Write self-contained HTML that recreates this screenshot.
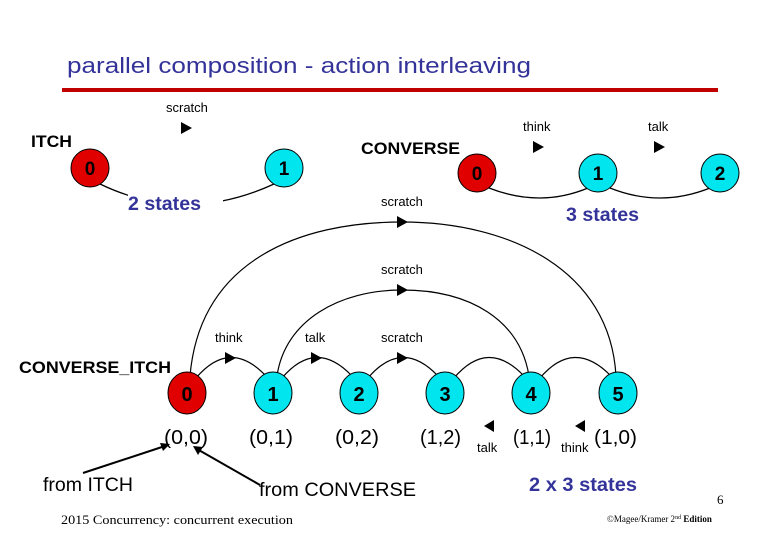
<!DOCTYPE html>
<html><head><meta charset="utf-8"><style>
html,body{margin:0;padding:0;background:#fff;}
svg{display:block;}
text{font-family:"Liberation Sans",sans-serif;}
</style></head><body>
<svg width="780" height="540" viewBox="0 0 780 540" xmlns="http://www.w3.org/2000/svg">
<rect width="780" height="540" fill="#fff"/>
<text x="67" y="73" font-size="22" fill="#333399" textLength="464" lengthAdjust="spacingAndGlyphs">parallel composition - action interleaving</text>
<rect x="62" y="88" width="656" height="4" fill="#c00000"/>

<!-- ITCH -->
<text x="31" y="147" font-size="17" font-weight="bold" fill="#000" textLength="41" lengthAdjust="spacingAndGlyphs">ITCH</text>
<text x="166" y="112" font-size="13" fill="#000">scratch</text>
<polygon points="181,122 192,128 181,134" fill="#000"/>
<path d="M100,184 Q185,225 274,184" fill="none" stroke="#000" stroke-width="1.3"/>
<circle cx="90" cy="168" r="19" fill="#e00000" stroke="#000"/>
<text x="90" y="175" font-size="19" font-weight="bold" text-anchor="middle">0</text>
<circle cx="284" cy="168" r="19" fill="#00e5ee" stroke="#000"/>
<text x="284" y="175" font-size="19" font-weight="bold" text-anchor="middle">1</text>
<rect x="128" y="194" width="95" height="20" fill="#fff"/>
<text x="128" y="210" font-size="19" font-weight="bold" fill="#333399" textLength="73" lengthAdjust="spacingAndGlyphs">2 states</text>

<!-- CONVERSE -->
<text x="361" y="154" font-size="17" font-weight="bold" fill="#000" textLength="99" lengthAdjust="spacingAndGlyphs">CONVERSE</text>
<text x="523" y="131" font-size="13" fill="#000">think</text>
<polygon points="533,141 544,147 533,153" fill="#000"/>
<text x="648" y="131" font-size="13" fill="#000">talk</text>
<polygon points="654,141 665,147 654,153" fill="#000"/>
<path d="M489,188 Q540,208 588,188" fill="none" stroke="#000" stroke-width="1.3"/>
<path d="M610,188 Q660,208 710,188" fill="none" stroke="#000" stroke-width="1.3"/>
<circle cx="477" cy="173" r="19" fill="#e00000" stroke="#000"/>
<text x="477" y="180" font-size="19" font-weight="bold" text-anchor="middle">0</text>
<circle cx="598" cy="173" r="19" fill="#00e5ee" stroke="#000"/>
<text x="598" y="180" font-size="19" font-weight="bold" text-anchor="middle">1</text>
<circle cx="720" cy="173" r="19" fill="#00e5ee" stroke="#000"/>
<text x="720" y="180" font-size="19" font-weight="bold" text-anchor="middle">2</text>
<text x="566" y="221" font-size="19" font-weight="bold" fill="#333399" textLength="73" lengthAdjust="spacingAndGlyphs">3 states</text>

<!-- big arcs -->
<text x="381" y="206" font-size="13" fill="#000">scratch</text>
<path d="M190,376 C200,260 300,222 402,222 C510,222 610,270 616,376" fill="none" stroke="#000" stroke-width="1.2"/>
<polygon points="397,216 408,222 397,228" fill="#000"/>
<text x="381" y="274" font-size="13" fill="#000">scratch</text>
<path d="M277,376 C285,320 340,290 402,290 C470,290 520,320 529,376" fill="none" stroke="#000" stroke-width="1.2"/>
<polygon points="397,284 408,290 397,296" fill="#000"/>

<!-- small arcs -->
<text x="215" y="342" font-size="13" fill="#000">think</text>
<text x="305" y="342" font-size="13" fill="#000">talk</text>
<text x="381" y="342" font-size="13" fill="#000">scratch</text>
<path d="M196,378 Q230,338 266,376" fill="none" stroke="#000" stroke-width="1.2"/>
<path d="M282,378 Q316,338 352,376" fill="none" stroke="#000" stroke-width="1.2"/>
<path d="M368,378 Q402,338 438,376" fill="none" stroke="#000" stroke-width="1.2"/>
<path d="M454,378 Q488,338 524,376" fill="none" stroke="#000" stroke-width="1.2"/>
<path d="M540,378 Q574,338 611,376" fill="none" stroke="#000" stroke-width="1.2"/>
<polygon points="225,352 236,358 225,364" fill="#000"/>
<polygon points="311,352 322,358 311,364" fill="#000"/>
<polygon points="397,352 408,358 397,364" fill="#000"/>

<text x="19" y="373" font-size="17" font-weight="bold" fill="#000" textLength="152" lengthAdjust="spacingAndGlyphs">CONVERSE_ITCH</text>
<ellipse cx="187" cy="393" rx="19" ry="21" fill="#e00000" stroke="#000"/>
<text x="187" y="401" font-size="20" font-weight="bold" text-anchor="middle">0</text>
<ellipse cx="273" cy="393" rx="19" ry="21" fill="#00e5ee" stroke="#000"/>
<text x="273" y="401" font-size="20" font-weight="bold" text-anchor="middle">1</text>
<ellipse cx="359" cy="393" rx="19" ry="21" fill="#00e5ee" stroke="#000"/>
<text x="359" y="401" font-size="20" font-weight="bold" text-anchor="middle">2</text>
<ellipse cx="445" cy="393" rx="19" ry="21" fill="#00e5ee" stroke="#000"/>
<text x="445" y="401" font-size="20" font-weight="bold" text-anchor="middle">3</text>
<ellipse cx="531" cy="393" rx="19" ry="21" fill="#00e5ee" stroke="#000"/>
<text x="531" y="401" font-size="20" font-weight="bold" text-anchor="middle">4</text>
<ellipse cx="618" cy="393" rx="19" ry="21" fill="#00e5ee" stroke="#000"/>
<text x="618" y="401" font-size="20" font-weight="bold" text-anchor="middle">5</text>

<g font-size="20" fill="#000">
<text x="164" y="444" textLength="44" lengthAdjust="spacingAndGlyphs">(0,0)</text>
<text x="249" y="444" textLength="44" lengthAdjust="spacingAndGlyphs">(0,1)</text>
<text x="335" y="444" textLength="44" lengthAdjust="spacingAndGlyphs">(0,2)</text>
<text x="420" y="444" textLength="41" lengthAdjust="spacingAndGlyphs">(1,2)</text>
<text x="513" y="444" textLength="38" lengthAdjust="spacingAndGlyphs">(1,1)</text>
<text x="594" y="444" textLength="43" lengthAdjust="spacingAndGlyphs">(1,0)</text>
</g>
<polygon points="494,420 494,432 484,426" fill="#000"/>
<text x="477" y="452" font-size="13" fill="#000">talk</text>
<polygon points="585,420 585,432 575,426" fill="#000"/>
<text x="561" y="452" font-size="13" fill="#000">think</text>

<line x1="83" y1="473" x2="165" y2="446" stroke="#000" stroke-width="2"/>
<polygon points="170,444 160,443 163,451" fill="#000"/>
<line x1="260" y1="485" x2="197" y2="449" stroke="#000" stroke-width="2"/>
<polygon points="193,446 198,455 203,447" fill="#000"/>
<text x="43" y="491" font-size="19" fill="#000" textLength="90" lengthAdjust="spacingAndGlyphs">from ITCH</text>
<text x="259" y="496" font-size="19" fill="#000" textLength="157" lengthAdjust="spacingAndGlyphs">from CONVERSE</text>
<text x="529" y="491" font-size="19" font-weight="bold" fill="#333399" textLength="108" lengthAdjust="spacingAndGlyphs">2 x 3 states</text>

<text x="717" y="504" font-size="13" fill="#000" style="font-family:'Liberation Serif',serif">6</text>
<text x="61" y="524" font-size="13" fill="#000" style="font-family:'Liberation Serif',serif" textLength="232" lengthAdjust="spacingAndGlyphs">2015 Concurrency: concurrent execution</text>
<text x="607" y="522" font-size="9" fill="#000" style="font-family:'Liberation Serif',serif">©Magee/Kramer 2<tspan font-size="6" dy="-3">nd</tspan><tspan dy="3" font-weight="bold"> Edition</tspan></text>
</svg>
</body></html>
